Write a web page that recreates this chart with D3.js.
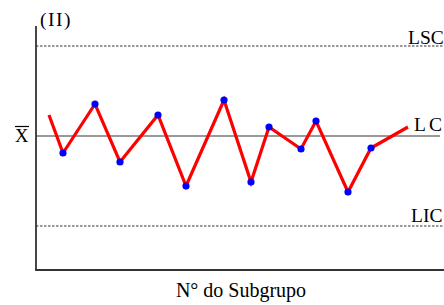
<!DOCTYPE html>
<html><head><meta charset="utf-8">
<script src="https://cdn.jsdelivr.net/npm/d3@7"></script>
<style>body{margin:0;background:#fff}svg{display:block}text{font-family:"Liberation Serif","Times New Roman",serif;fill:#000}</style>
</head><body><div id="chart"></div>
<script>
// Subgroup positions (x) and sample means (y), in chart units
const subgroupX = [1.3, 2.7, 5.9, 8.4, 12.2, 15.0, 18.8, 21.5, 23.3, 26.5, 28.0, 31.2, 33.5, 37.2];
const meanValues = [15.5, 11.7, 16.6, 10.8, 15.5, 8.4, 17.0, 8.8, 14.3, 12.1, 14.9, 7.8, 12.2, 14.3];
// points drawn with markers (first and last segments are open ends)
const markerIdx = [1,2,3,4,5,6,7,8,9,10,11,12];
const limitNames = ["LSC", "LC", "LIC"];
const limitValues = [22.4, 13.4, 4.4];
const axisTitle = "N\u00B0 do Subgrupo";
const panelTitle = "(II)";

const W = 444, H = 305;
const svg = d3.select("#chart").append("svg").attr("width", W).attr("height", H);
const x = d3.scaleLinear().domain([0, 40.8]).range([36, 444]);
const y = d3.scaleLinear().domain([0, 24.4]).range([270, 26]);

// limit lines
svg.append("line").attr("x1", x(0)).attr("x2", x(40.8)).attr("y1", y(limitValues[0])).attr("y2", y(limitValues[0]))
  .attr("stroke", "#333").attr("stroke-width", 1).attr("stroke-dasharray", "2.5,1.5");
svg.append("line").attr("x1", x(0)).attr("x2", x(40.4)).attr("y1", y(limitValues[1])).attr("y2", y(limitValues[1]))
  .attr("stroke", "#777").attr("stroke-width", 1.6);
svg.append("line").attr("x1", x(0)).attr("x2", x(40.8)).attr("y1", y(limitValues[2])).attr("y2", y(limitValues[2]))
  .attr("stroke", "#333").attr("stroke-width", 1).attr("stroke-dasharray", "2.5,1.5");

// axes
svg.append("line").attr("x1", x(0)).attr("x2", x(0)).attr("y1", y(24.4)).attr("y2", y(0)).attr("stroke", "#333").attr("stroke-width", 1.8);
svg.append("line").attr("x1", x(0) - 0.9).attr("x2", x(40.8)).attr("y1", y(0)).attr("y2", y(0)).attr("stroke", "#333").attr("stroke-width", 1.8);

// series
const pts = subgroupX.map((d, i) => [d, meanValues[i]]);
svg.append("path").datum(pts)
  .attr("d", d3.line().x(d => x(d[0])).y(d => y(d[1])))
  .attr("fill", "none").attr("stroke", "#ff0000").attr("stroke-width", 3.2).attr("stroke-linejoin", "miter");
svg.selectAll("circle.pt").data(markerIdx).enter().append("circle")
  .attr("cx", i => x(subgroupX[i])).attr("cy", i => y(meanValues[i])).attr("r", 3.6).attr("fill", "#0000ff");

// labels
svg.append("text").attr("x", 408).attr("y", 43.5).attr("font-size", 19.5).text(limitNames[0]);
svg.append("text").attr("x", 414).attr("y", 130.5).attr("font-size", 19.5).attr("textLength", 28).text("L C");
svg.append("text").attr("x", 411).attr("y", 221.5).attr("font-size", 19.5).text(limitNames[2]);
svg.append("text").attr("x", 15).attr("y", 142).attr("font-size", 18.5).text("X");
svg.append("line").attr("x1", 15).attr("x2", 29).attr("y1", 126.5).attr("y2", 126.5).attr("stroke", "#000").attr("stroke-width", 1.2);
svg.append("text").attr("x", 40).attr("y", 25.5).attr("font-size", 19.5).attr("letter-spacing", 1.5).text(panelTitle);
svg.append("text").attr("x", 241).attr("y", 297).attr("font-size", 20).attr("text-anchor", "middle").text(axisTitle);
</script></body></html>
